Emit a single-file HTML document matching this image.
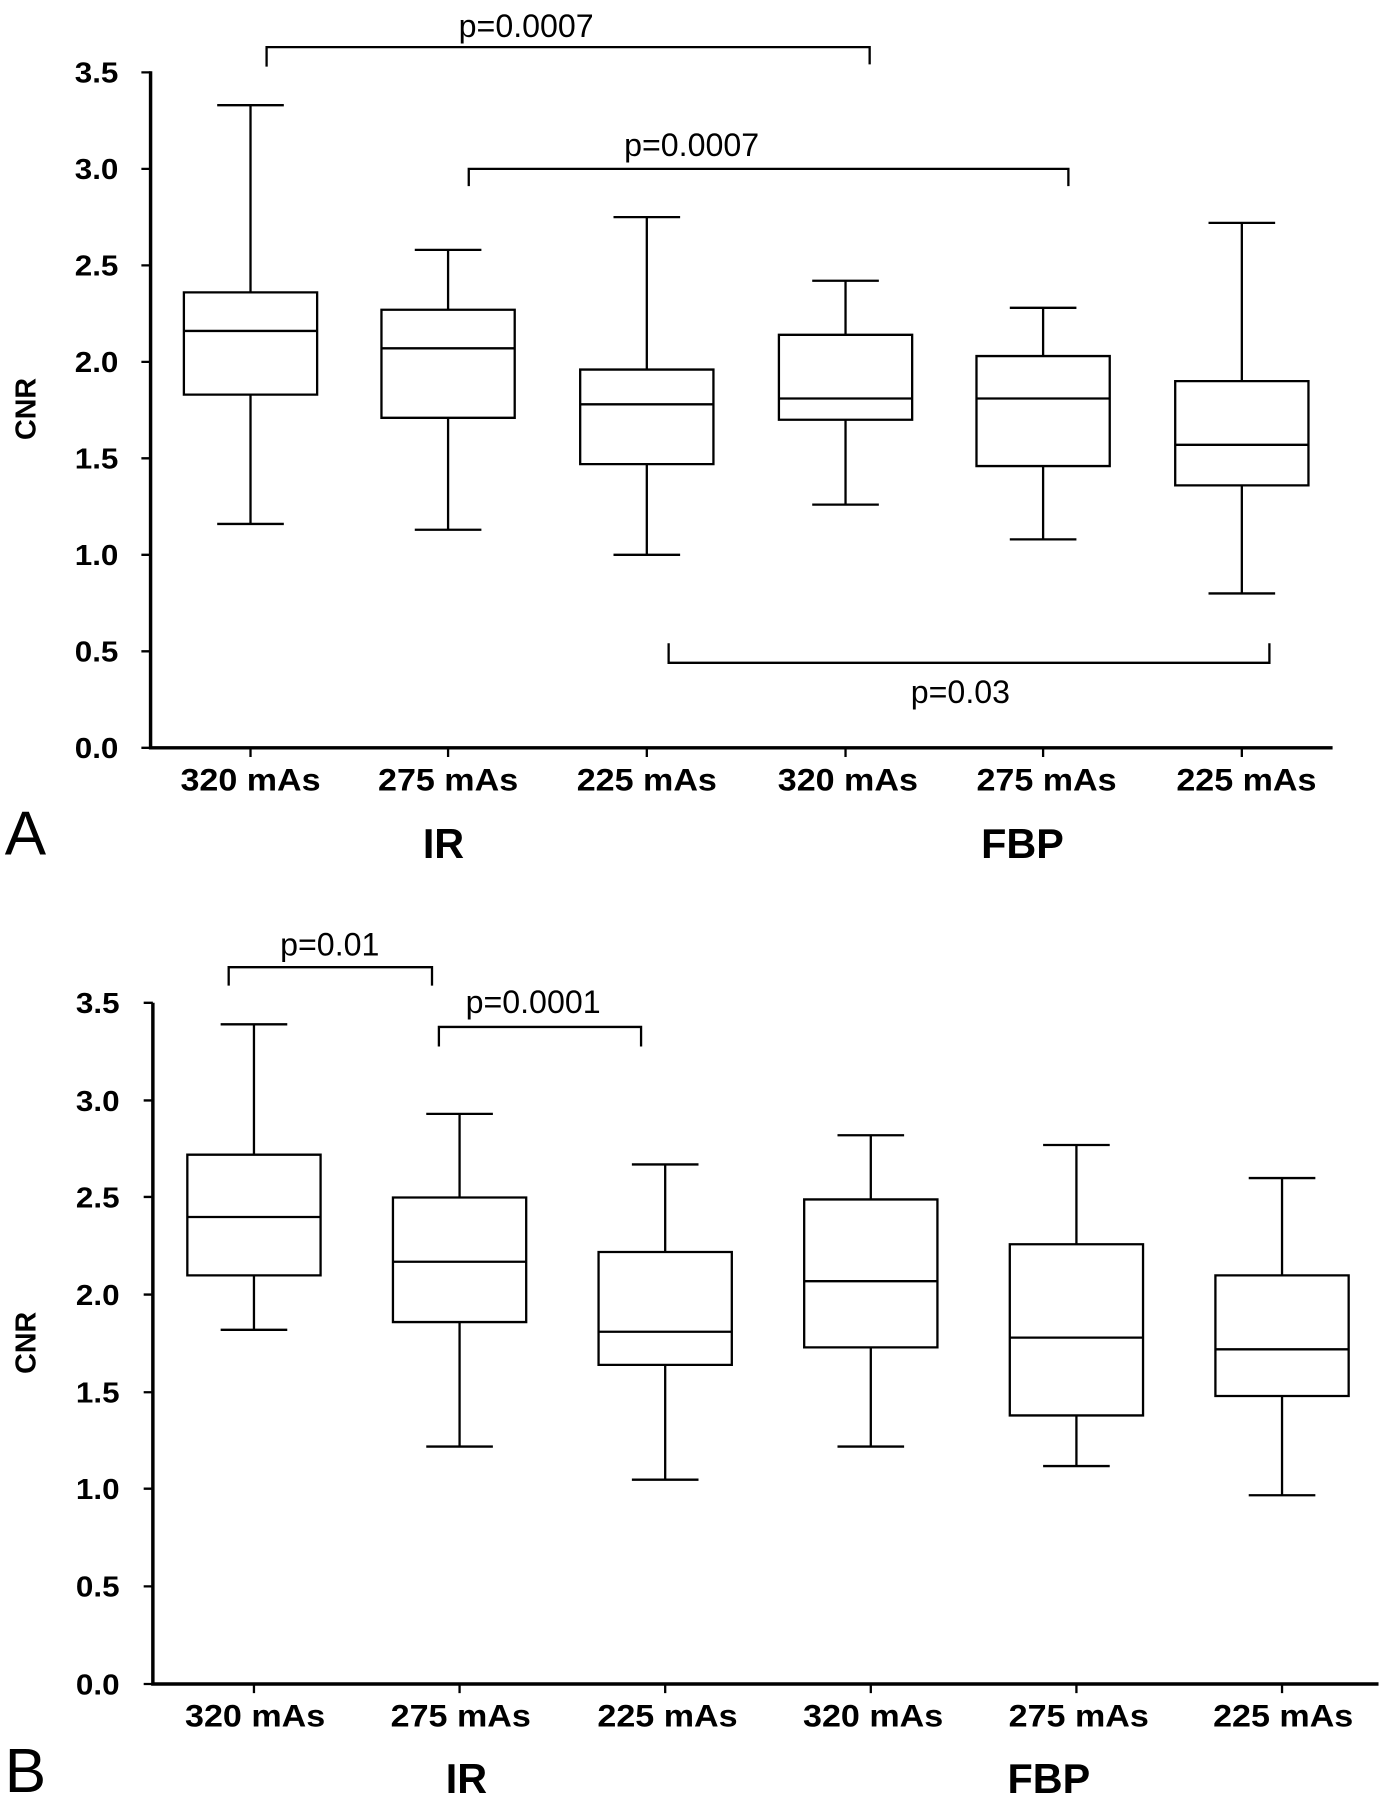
<!DOCTYPE html>
<html><head><meta charset="utf-8"><style>html,body{margin:0;padding:0;background:#fff}svg{display:block}</style></head>
<body>
<svg width="1397" height="1800" viewBox="0 0 1216 1567" xmlns="http://www.w3.org/2000/svg" font-family="Liberation Sans, Arial, sans-serif">
<g stroke="#000" fill="none" stroke-width="2">
<path d="M131 62 V651 H1160" stroke-width="3"/>
<path d="M123 63H131M123 147H131M123 231H131M123 315H131M123 399H131M123 483H131M123 567H131M123 651H131"/>
<path d="M218 651v8M390 651v8M563 651v8M736 651v8M908 651v8M1081 651v8"/>
<path d="M133 873 V1466 H1200" stroke-width="3"/>
<path d="M125 873H133M125 958H133M125 1042H133M125 1127H133M125 1212H133M125 1296H133M125 1381H133M125 1466H133"/>
<path d="M221 1466v8M400 1466v8M579 1466v8M758 1466v8M937 1466v8M1116 1466v8"/>
<path d="M232 58V41H757V56"/>
<path d="M408 162V147H930V162"/>
<path d="M582 560V577H1105V560"/>
<path d="M199 858V842H376V858"/>
<path d="M382 911V894H558V911"/>
</g>
<g id="boxes" stroke="#000" fill="none" stroke-width="2"></g>
<g font-weight="bold" font-size="25" text-anchor="end">
<text x="103" y="72" textLength="38" lengthAdjust="spacingAndGlyphs">3.5</text><text x="103" y="156" textLength="38" lengthAdjust="spacingAndGlyphs">3.0</text><text x="103" y="240" textLength="38" lengthAdjust="spacingAndGlyphs">2.5</text><text x="103" y="324" textLength="38" lengthAdjust="spacingAndGlyphs">2.0</text><text x="103" y="408" textLength="38" lengthAdjust="spacingAndGlyphs">1.5</text><text x="103" y="492" textLength="38" lengthAdjust="spacingAndGlyphs">1.0</text><text x="103" y="576" textLength="38" lengthAdjust="spacingAndGlyphs">0.5</text><text x="103" y="660" textLength="38" lengthAdjust="spacingAndGlyphs">0.0</text>
<text x="104" y="882" textLength="38" lengthAdjust="spacingAndGlyphs">3.5</text><text x="104" y="967" textLength="38" lengthAdjust="spacingAndGlyphs">3.0</text><text x="104" y="1051" textLength="38" lengthAdjust="spacingAndGlyphs">2.5</text><text x="104" y="1136" textLength="38" lengthAdjust="spacingAndGlyphs">2.0</text><text x="104" y="1221" textLength="38" lengthAdjust="spacingAndGlyphs">1.5</text><text x="104" y="1305" textLength="38" lengthAdjust="spacingAndGlyphs">1.0</text><text x="104" y="1390" textLength="38" lengthAdjust="spacingAndGlyphs">0.5</text><text x="104" y="1475" textLength="38" lengthAdjust="spacingAndGlyphs">0.0</text>
</g>
<g font-weight="bold" font-size="27" text-anchor="middle" lengthAdjust="spacingAndGlyphs">
<text x="218" y="688" textLength="122" lengthAdjust="spacingAndGlyphs">320 mAs</text><text x="390" y="688" textLength="122" lengthAdjust="spacingAndGlyphs">275 mAs</text><text x="563" y="688" textLength="122" lengthAdjust="spacingAndGlyphs">225 mAs</text><text x="738" y="688" textLength="122" lengthAdjust="spacingAndGlyphs">320 mAs</text><text x="911" y="688" textLength="122" lengthAdjust="spacingAndGlyphs">275 mAs</text><text x="1085" y="688" textLength="122" lengthAdjust="spacingAndGlyphs">225 mAs</text>
<text x="222" y="1503" textLength="122" lengthAdjust="spacingAndGlyphs">320 mAs</text><text x="401" y="1503" textLength="122" lengthAdjust="spacingAndGlyphs">275 mAs</text><text x="581" y="1503" textLength="122" lengthAdjust="spacingAndGlyphs">225 mAs</text><text x="760" y="1503" textLength="122" lengthAdjust="spacingAndGlyphs">320 mAs</text><text x="939" y="1503" textLength="122" lengthAdjust="spacingAndGlyphs">275 mAs</text><text x="1117" y="1503" textLength="122" lengthAdjust="spacingAndGlyphs">225 mAs</text>
</g>
<g font-weight="bold" font-size="36" text-anchor="middle">
<text x="386" y="747">IR</text><text x="890" y="747">FBP</text>
<text x="406" y="1561">IR</text><text x="913" y="1561">FBP</text>
</g>
<g font-weight="bold" font-size="25" text-anchor="middle">
<text transform="translate(31 356) rotate(-90)">CNR</text>
<text transform="translate(31 1169) rotate(-90)">CNR</text>
</g>
<g font-size="28" text-anchor="middle">
<text x="458" y="32">p=0.0007</text><text x="602" y="136">p=0.0007</text><text x="836" y="612">p=0.03</text>
<text x="287" y="832">p=0.01</text><text x="464" y="882">p=0.0001</text>
</g>
<g font-size="54"><text x="4" y="744">A</text><text x="4" y="1560">B</text></g>
</svg>
<script>
(function(){
var g=document.getElementById('boxes'),ns='http://www.w3.org/2000/svg';
function add(y0,ppu,cx,lo,q1,md,q3,hi){
 var Y=function(v){return y0-v*ppu;};
 var d='M'+(cx-29)+' '+Y(hi)+'H'+(cx+29)+'M'+cx+' '+Y(hi)+'V'+Y(q3)+
 'M'+(cx-29)+' '+Y(lo)+'H'+(cx+29)+'M'+cx+' '+Y(lo)+'V'+Y(q1)+
 'M'+(cx-58)+' '+Y(q3)+'H'+(cx+58)+'V'+Y(q1)+'H'+(cx-58)+'Z'+
 'M'+(cx-58)+' '+Y(md)+'H'+(cx+58);
 var p=document.createElementNS(ns,'path');p.setAttribute('d',d);g.appendChild(p);
}
var A=[[218,1.16,1.83,2.16,2.36,3.33],[390,1.13,1.71,2.07,2.27,2.58],[563,1.0,1.47,1.78,1.96,2.75],[736,1.26,1.70,1.81,2.14,2.42],[908,1.08,1.46,1.81,2.03,2.28],[1081,0.80,1.36,1.57,1.90,2.72]];
A.forEach(function(b){add(651,168,b[0],b[1],b[2],b[3],b[4],b[5]);});
var B=[[221,1.82,2.10,2.40,2.72,3.39],[400,1.22,1.86,2.17,2.50,2.93],[579,1.05,1.64,1.81,2.22,2.67],[758,1.22,1.73,2.07,2.49,2.82],[937,1.12,1.38,1.78,2.26,2.77],[1116,0.97,1.48,1.72,2.10,2.60]];
B.forEach(function(b){add(1466,169.4,b[0],b[1],b[2],b[3],b[4],b[5]);});
})();
</script>
</body></html>
